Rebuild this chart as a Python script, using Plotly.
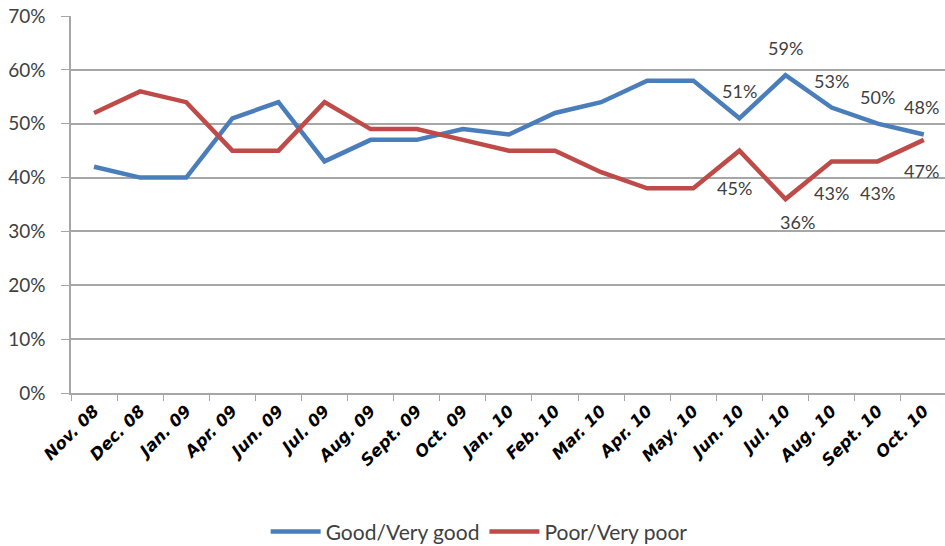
import plotly.graph_objects as go

# Survey months
months = ["Nov. 08", "Dec. 08", "Jan. 09", "Apr. 09", "Jun. 09", "Jul. 09",
          "Aug. 09", "Sept. 09", "Oct. 09", "Jan. 10", "Feb. 10", "Mar. 10",
          "Apr. 10", "May. 10", "Jun. 10", "Jul. 10", "Aug. 10", "Sept. 10",
          "Oct. 10"]

# Share of respondents (%)
good = [42, 40, 40, 51, 54, 43, 47, 47, 49, 48, 52, 54, 58, 58, 51, 59, 53, 50, 48]
poor = [52, 56, 54, 45, 45, 54, 49, 49, 47, 45, 45, 41, 38, 38, 45, 36, 43, 43, 47]

y_ticks = [0, 10, 20, 30, 40, 50, 60, 70]
y_tick_text = [f"{v}%" for v in y_ticks]

# Value labels are shown for the last few surveys
labelled_from = 14
# pixel offsets of the value labels (x, y) relative to their points
good_label_shift = [(0, 27), (0, 27), (0, 27), (0, 27), (-2, 27)]
poor_label_shift = [(-5, -37), (12, -23), (0, -32), (0, -32), (-2, -31)]

BLUE = "#4A7EBB"
RED = "#BE4B48"
GRID = "#A6A6A6"
TEXT = "#404040"

fig = go.Figure()
fig.add_trace(go.Scatter(x=months, y=good, mode="lines", name="Good/Very good",
                         line=dict(color=BLUE, width=4.5)))
fig.add_trace(go.Scatter(x=months, y=poor, mode="lines", name="Poor/Very poor",
                         line=dict(color=RED, width=4.5)))

annotations = []
for series, shifts in ((good, good_label_shift), (poor, poor_label_shift)):
    for k, (dx, dy) in enumerate(shifts):
        i = labelled_from + k
        annotations.append(dict(
            x=months[i], y=series[i], text=f"{series[i]}%", showarrow=False,
            xshift=dx, yshift=dy, font=dict(family="Lato", size=18, color=TEXT)))

fig.update_layout(
    width=945, height=546,
    margin=dict(l=71, r=0, t=16, b=153, autoexpand=False),
    paper_bgcolor="white", plot_bgcolor="white",
    showlegend=True,
    legend=dict(orientation="h", x=0.467, xanchor="center", y=-0.368,
                yanchor="middle", font=dict(family="Lato", size=21, color=TEXT),
                itemwidth=50, bgcolor="rgba(0,0,0,0)"),
    annotations=annotations,
    xaxis=dict(type="category", categoryorder="array", categoryarray=months,
               range=[-0.5, 18.46], tickson="boundaries", ticks="outside",
               ticklen=6, tickcolor=GRID, showline=True, linecolor=GRID,
               linewidth=1.5, showgrid=False, tickangle=-45, automargin=False,
               tickfont=dict(family="DejaVu Sans", size=16.5, color="black",
                             weight="bold", style="italic")),
    yaxis=dict(range=[0, 70], tickmode="array", tickvals=y_ticks,
               ticktext=y_tick_text, ticks="outside", ticklen=8,
               tickcolor=GRID, showline=True, linecolor=GRID, linewidth=1.5,
               showgrid=True, gridcolor=GRID, gridwidth=1.5, zeroline=False,
               ticklabelstandoff=12, automargin=False,
               tickfont=dict(family="Lato", size=19, color=TEXT)),
)

fig.write_html("out.html")
